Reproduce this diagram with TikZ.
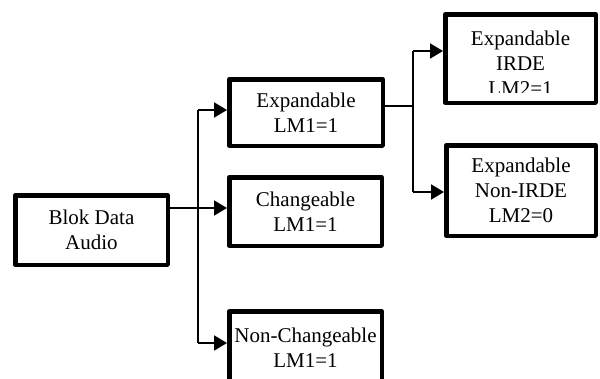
\documentclass[tikz,border=0pt]{standalone}
\usepackage{fontspec}
\setmainfont{Liberation Serif}
\usetikzlibrary{arrows.meta}
\begin{document}
\begin{tikzpicture}[x=1pt,y=-1pt,
  box/.style={draw=black, line width=4.5pt, fill=white, inner sep=0pt, align=center,
    font=\fontsize{21}{25}\selectfont, line join=round},
  txt/.style={inner sep=0pt, align=center, font=\fontsize{21}{25}\selectfont},
  conn/.style={line width=2pt},
  arr/.style={conn, -{Triangle[length=13pt,width=15pt]}}]
\useasboundingbox (0,0) rectangle (600,378);
% coordinates of connector joints
\coordinate (j1) at (198,208);
\coordinate (jtop) at (198,110);
\coordinate (jbot) at (198,343);
\coordinate (k1) at (413,106);
\coordinate (ktop) at (413,51);
\coordinate (kbot) at (413,192);
% boxes
\node[box, minimum width=152.5pt, minimum height=69.5pt] (blok) at (91.5,230) {Blok Data\\Audio};
\node[box, minimum width=153.5pt, minimum height=66.5pt] (exp) at (306,112.5) {Expandable\\LM1=1};
\node[box, minimum width=152.5pt, minimum height=68.5pt] (chg) at (305.5,211.5) {Changeable\\LM1=1};
\node[box, minimum width=152.5pt, minimum height=72.3pt] (nch) at (305.5,347.5) {Non-Changeable\\LM1=1};
\node[box, minimum width=149.5pt, minimum height=90.5pt] (nirde) at (521,190.5) {Expandable\\Non-IRDE\\LM2=0};
\node[box, minimum width=150.5pt, minimum height=88.5pt] (irde) at (520.5,58.5) {};
\begin{scope}
  \clip (440,14) rectangle (600,92);
  \node[txt] (irdetext) at (520.5,62.9) {Expandable\\IRDE\\LM2=1};
\end{scope}
% connectors
\draw[conn] (blok.east |- j1) -- (j1);
\draw[conn] (jtop) -- (jbot);
\draw[arr] (j1) -- (j1 -| chg.west);
\draw[arr] (jtop) -- (jtop -| exp.west);
\draw[arr] (jbot) -- (jbot -| nch.west);
\draw[conn] (exp.east |- k1) -- (k1);
\draw[conn] (ktop) -- (kbot);
\draw[arr] (ktop) -- (ktop -| irde.west);
\draw[arr] (kbot) -- (kbot -| nirde.west);
\end{tikzpicture}
\end{document}
